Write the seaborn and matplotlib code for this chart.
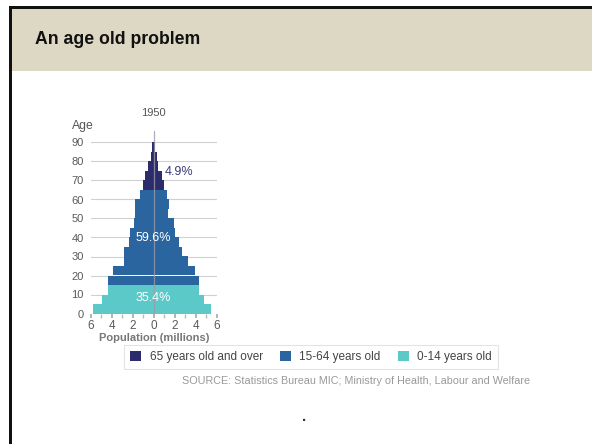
import numpy as np
import pandas as pd
import matplotlib
matplotlib.use("Agg")
import matplotlib.pyplot as plt
from matplotlib.patches import Rectangle
from matplotlib.ticker import MultipleLocator, FuncFormatter
import seaborn as sns

# ---- data (millions) ----
age_starts = [0, 5, 10, 15, 20, 25, 30, 35, 40, 45, 50, 55, 60, 65, 70, 75, 80, 85]
left_pop = [5.8, 4.9, 4.4, 4.4, 3.9, 2.8, 2.8, 2.35, 2.3, 1.85, 1.8, 1.8, 1.3, 1.0, 0.85, 0.5, 0.3, 0.13]
right_pop = [5.5, 4.75, 4.3, 4.3, 3.9, 3.3, 2.7, 2.4, 2.05, 1.9, 1.4, 1.45, 1.25, 1.0, 0.75, 0.45, 0.27, 0.13]
groups = ["65 years old and over", "15-64 years old", "0-14 years old"]
group_colors = ["#2c2c6c", "#2b65a0", "#5cc9c9"]
group_shares = ["4.9%", "59.6%", "35.4%"]
year_label = "1950"
x_ticks = [-6, -4, -2, 0, 2, 4, 6]
y_ticks = [0, 10, 20, 30, 40, 50, 60, 70, 80, 90]
source_text = "SOURCE: Statistics Bureau MIC; Ministry of Health, Labour and Welfare"


def group_of(a):
    if a < 15:
        return groups[2]
    if a < 65:
        return groups[1]
    return groups[0]


mid = [a + 2.5 for a in age_starts]
df_left = pd.DataFrame({"mid": mid, "pop": [-v for v in left_pop],
                        "group": [group_of(a) for a in age_starts]})
df_right = pd.DataFrame({"mid": mid, "pop": right_pop,
                         "group": [group_of(a) for a in age_starts]})

sns.set_theme(style="white")
plt.rcParams["font.family"] = ["Liberation Sans", "DejaVu Sans"]

fig = plt.figure(figsize=(5.92, 4.44), dpi=100)
fig.patch.set_facecolor("white")

# header band and border
fig.patches.append(Rectangle((12 / 592, 1 - 71 / 444), 1, 62 / 444, transform=fig.transFigure,
                             facecolor="#ddd8c3", edgecolor="none", zorder=0))
fig.patches.append(Rectangle((9 / 592, 1 - 9 / 444), 1, 3 / 444, transform=fig.transFigure,
                             facecolor="#111111", edgecolor="none", zorder=1))
fig.patches.append(Rectangle((9 / 592, 0), 3 / 592, 1 - 6 / 444, transform=fig.transFigure,
                             facecolor="#111111", edgecolor="none", zorder=1))
fig.text(35 / 592, 1 - 40 / 444, "An age old problem", fontsize=12.7, fontweight="bold",
         color="#111111", va="center", ha="left")

ax = fig.add_axes([90.7 / 592, 1 - 313.5 / 444, 126 / 592, 182.4 / 444])
palette = dict(zip(groups, group_colors))
sns.barplot(data=df_left, x="pop", y="mid", hue="group", hue_order=groups, palette=palette,
            orient="y", native_scale=True, width=1, dodge=False, errorbar=None,
            saturation=1, linewidth=0, ax=ax, legend=True, zorder=2)
sns.barplot(data=df_right, x="pop", y="mid", hue="group", hue_order=groups, palette=palette,
            orient="y", native_scale=True, width=1, dodge=False, errorbar=None,
            saturation=1, linewidth=0, ax=ax, legend=False, zorder=2)

ax.set_xlim(-6, 6)
ax.set_ylim(0, 96)
for s in ax.spines.values():
    s.set_visible(False)
ax.set_yticks(y_ticks)
ax.set_xticks(x_ticks)
ax.xaxis.set_minor_locator(MultipleLocator(1))
ax.xaxis.set_major_formatter(FuncFormatter(lambda v, p: f"{abs(int(round(v)))}"))
ax.yaxis.grid(True, color="#d0d0d0", linewidth=0.8, zorder=0)
ax.xaxis.grid(False)
ax.set_axisbelow(True)
ax.tick_params(axis="y", length=0, labelsize=8, labelcolor="#5a5a5a", pad=5)
ax.tick_params(axis="x", which="major", length=3, color="#aaaaaa", direction="out",
               labelsize=8.5, labelcolor="#5a5a5a", pad=1.5, bottom=True)
ax.tick_params(axis="x", which="minor", length=3, color="#bbbbbb", direction="out", bottom=True)
ax.set_ylabel("")
ax.set_xlabel("Population (millions)", fontsize=8, fontweight="bold", color="#777777", labelpad=1)
ax.axvline(0, color="#9a9aa8", linewidth=0.9, alpha=0.8, zorder=3)

ax.text(-0.145, 95.3, "Age", transform=ax.get_yaxis_transform(), fontsize=8.8,
        color="#555555", ha="left", va="bottom")
ax.text(0, 105.3, year_label, fontsize=8, color="#555555", ha="center", va="center")
ax.text(1.05, 74.5, group_shares[0], fontsize=9, color="#3a3a78", ha="left", va="center", zorder=4)
ax.text(0, 39.5, group_shares[1], fontsize=9, color="white", ha="center", va="center", zorder=4)
ax.text(0, 8, group_shares[2], fontsize=9, color="white", ha="center", va="center", zorder=4)

sns.move_legend(ax, "center", bbox_to_anchor=(311 / 592, 1 - 357 / 444),
                bbox_transform=fig.transFigure, ncol=3, title=None, frameon=True,
                fontsize=8.5, handlelength=0.95, handleheight=1.0, columnspacing=1.45,
                handletextpad=0.7, borderpad=0.5, fancybox=False, edgecolor="#dddddd")
leg = ax.get_legend()
for t in leg.get_texts():
    t.set_color("#444444")
leg.get_frame().set_linewidth(0.8)

fig.text(355.5 / 592, 1 - 381 / 444, source_text, fontsize=7.75, color="#999999",
         ha="center", va="center")
fig.text(305 / 592, 1 - 421 / 444, "·", fontsize=11, fontweight="bold", color="#333333",
         ha="center", va="center")

fig.savefig("out.png", dpi=100)
